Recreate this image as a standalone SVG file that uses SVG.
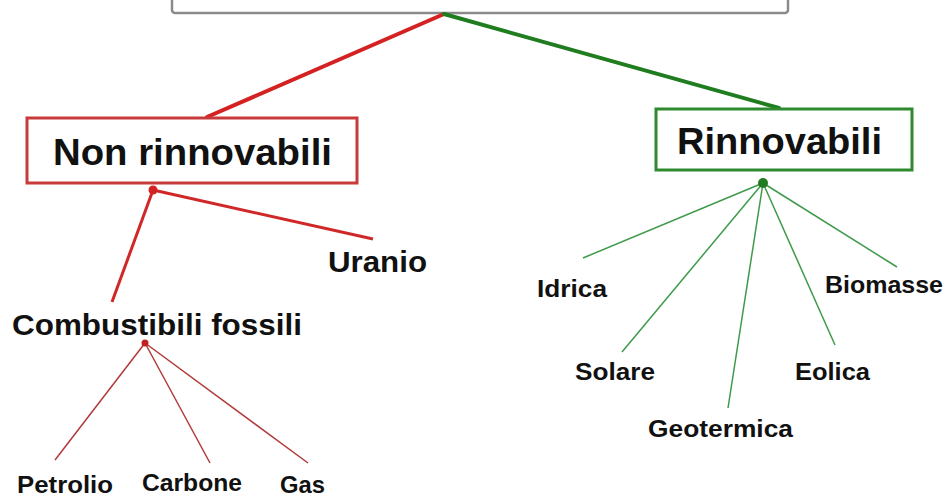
<svg xmlns="http://www.w3.org/2000/svg" width="948" height="499" viewBox="0 0 948 499">
  <style>
    .t { font-family: "Liberation Sans", Arial, sans-serif; font-weight: bold; fill: #111; }
    .big { font-size: 36px; }
    .mid { font-size: 29px; }
    .sm { font-size: 24px; }
    .red-thick { stroke: #d42222; stroke-width: 4; fill: none; stroke-linecap: round; }
    .green-thick { stroke: #1f7d1f; stroke-width: 4; fill: none; stroke-linecap: round; }
    .red-mid { stroke: #d02828; stroke-width: 3; fill: none; }
    .red-thin { stroke: #b23a3a; stroke-width: 1.5; fill: none; }
    .green-thin { stroke: #3d9a4a; stroke-width: 1.5; fill: none; }
  </style>

  <rect width="948" height="499" fill="#ffffff"/>

  <!-- root box (top edge runs off the canvas) -->
  <g id="root">
    <rect x="172" y="-20" width="616" height="33" rx="3" fill="#fff" stroke="#8a8a8a" stroke-width="2.5"/>
  </g>

  <g id="connectors">
    <line class="red-thick" x1="444" y1="14" x2="207" y2="117"/>
    <line class="green-thick" x1="444" y1="14" x2="779" y2="108"/>

    <line class="red-mid" x1="153" y1="190" x2="112" y2="302"/>
    <line class="red-mid" x1="153" y1="190" x2="373" y2="239"/>
    <circle cx="153" cy="190" r="4.5" fill="#d42222"/>

    <line class="red-thin" x1="145" y1="343" x2="55" y2="460"/>
    <line class="red-thin" x1="145" y1="343" x2="210" y2="463"/>
    <line class="red-thin" x1="145" y1="343" x2="308" y2="463"/>
    <circle cx="145" cy="343" r="3.5" fill="#c02020"/>

    <line class="green-thin" x1="763" y1="183" x2="583" y2="258"/>
    <line class="green-thin" x1="763" y1="183" x2="622" y2="352"/>
    <line class="green-thin" x1="763" y1="183" x2="728" y2="408"/>
    <line class="green-thin" x1="763" y1="183" x2="835" y2="345"/>
    <line class="green-thin" x1="763" y1="183" x2="897" y2="267"/>
    <circle cx="763" cy="183" r="5" fill="#1f7d1f"/>
  </g>

  <g id="non-rinnovabili">
    <rect x="27" y="118" width="330" height="65" fill="#fff" stroke="#c83a3a" stroke-width="3"/>
    <text class="t big" x="53" y="165" textLength="279" lengthAdjust="spacingAndGlyphs">Non rinnovabili</text>
  </g>

  <g id="rinnovabili">
    <rect x="656" y="109" width="256" height="61" fill="#fff" stroke="#2e8a2e" stroke-width="3"/>
    <text class="t big" x="677" y="154" textLength="205" lengthAdjust="spacingAndGlyphs">Rinnovabili</text>
  </g>

  <g id="uranio">
    <text class="t mid" x="328" y="272" textLength="99" lengthAdjust="spacingAndGlyphs">Uranio</text>
  </g>
  <g id="combustibili-fossili">
    <text class="t mid" x="12" y="335" textLength="290" lengthAdjust="spacingAndGlyphs">Combustibili fossili</text>
  </g>

  <g id="petrolio">
    <text class="t sm" x="17" y="493" textLength="96" lengthAdjust="spacingAndGlyphs">Petrolio</text>
  </g>
  <g id="carbone">
    <text class="t sm" x="142" y="491" textLength="100" lengthAdjust="spacingAndGlyphs">Carbone</text>
  </g>
  <g id="gas">
    <text class="t sm" x="280" y="493" textLength="45" lengthAdjust="spacingAndGlyphs">Gas</text>
  </g>

  <g id="idrica">
    <text class="t sm" x="537" y="297" textLength="70" lengthAdjust="spacingAndGlyphs">Idrica</text>
  </g>
  <g id="biomasse">
    <text class="t sm" x="825" y="293" textLength="118" lengthAdjust="spacingAndGlyphs">Biomasse</text>
  </g>
  <g id="solare">
    <text class="t sm" x="575" y="380" textLength="80" lengthAdjust="spacingAndGlyphs">Solare</text>
  </g>
  <g id="eolica">
    <text class="t sm" x="795" y="380" textLength="75" lengthAdjust="spacingAndGlyphs">Eolica</text>
  </g>
  <g id="geotermica">
    <text class="t sm" x="648" y="437" textLength="145" lengthAdjust="spacingAndGlyphs">Geotermica</text>
  </g>
</svg>
